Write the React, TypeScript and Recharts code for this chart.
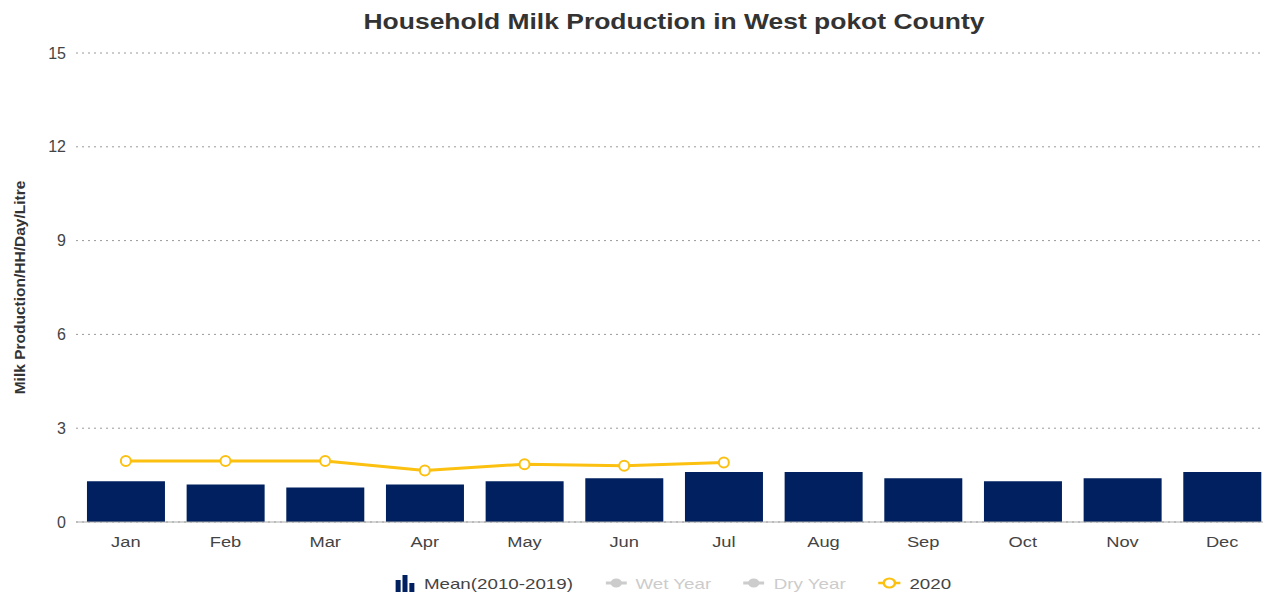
import {
  Bar,
  CartesianGrid,
  ComposedChart,
  Legend,
  Line,
  XAxis,
  YAxis,
} from "recharts";

const months = ["Jan", "Feb", "Mar", "Apr", "May", "Jun", "Jul", "Aug", "Sep", "Oct", "Nov", "Dec"];
const mean2010to2019 = [1.3, 1.2, 1.1, 1.2, 1.3, 1.4, 1.6, 1.6, 1.4, 1.3, 1.4, 1.6];
const year2020: (number | null)[] = [1.95, 1.95, 1.95, 1.65, 1.85, 1.8, 1.9, null, null, null, null, null];
const yTicks = [0, 3, 6, 9, 12, 15];

const data = months.map((month, i) => ({
  month,
  mean: mean2010to2019[i],
  y2020: year2020[i],
}));

const FONT = "'Liberation Sans', Arial, Helvetica, sans-serif";
const NAVY = "#00205f";
const GOLD = "#fbc010";
// the reference text is a little wider than Arial, stretch it to match
const STRETCH = 1.22;

function MonthTick({ x, y, payload }: any) {
  return (
    <g transform={`translate(${x},${y})`}>
      <text transform={`scale(${STRETCH},1)`} textAnchor="middle" dy="0.71em" fill="#444" fontSize={15}>
        {payload.value}
      </text>
    </g>
  );
}

function LegendContent() {
  const item = { display: "flex", alignItems: "center", gap: 7, fontSize: 15 } as const;
  return (
    <div style={{ paddingTop: 22, paddingLeft: 73 }}>
      <div
        style={{
          display: "flex",
          justifyContent: "center",
          gap: 26,
          fontFamily: FONT,
          transform: "scaleX(1.25)",
          transformOrigin: "50% 50%",
        }}
      >
        <div style={{ ...item, color: "#444" }}>
          <svg width={17} height={18}>
            <rect x={1} y={6} width={4} height={12} fill={NAVY} />
            <rect x={6.5} y={1} width={4} height={17} fill={NAVY} />
            <rect x={12} y={9} width={4} height={9} fill={NAVY} />
          </svg>
          Mean(2010-2019)
        </div>
        <div style={{ ...item, color: "#ccc" }}>
          <svg width={17} height={18}>
            <line x1={0} y1={9} x2={17} y2={9} stroke="#ccc" strokeWidth={3} />
            <circle cx={8.5} cy={9} r={4.5} fill="#ccc" />
          </svg>
          Wet Year
        </div>
        <div style={{ ...item, color: "#ccc" }}>
          <svg width={17} height={18}>
            <line x1={0} y1={9} x2={17} y2={9} stroke="#ccc" strokeWidth={3} />
            <circle cx={8.5} cy={9} r={4.5} fill="#ccc" />
          </svg>
          Dry Year
        </div>
        <div style={{ ...item, color: "#444" }}>
          <svg width={18} height={18}>
            <line x1={0} y1={9} x2={18} y2={9} stroke={GOLD} strokeWidth={2.5} />
            <circle cx={9} cy={9} r={4.5} fill="#fff" stroke={GOLD} strokeWidth={2} />
          </svg>
          2020
        </div>
      </div>
    </div>
  );
}

export default function App() {
  return (
    <div style={{ position: "absolute", left: 0, top: 0, width: 1263, height: 594, overflow: "hidden", background: "#fff" }}>
      <div
        style={{
          position: "absolute",
          top: 10,
          left: 0,
          width: 1348,
          textAlign: "center",
          fontFamily: FONT,
          fontWeight: 700,
          fontSize: 21.5,
          color: "#333",
          transform: "scaleX(1.23)",
          transformOrigin: "674px 50%",
        }}
      >
        Household Milk Production in West pokot County
      </div>
      <ComposedChart
        width={1275}
        height={594}
        data={data}
        margin={{ top: 53, right: 3, left: 0, bottom: 0 }}
        barCategoryGap="11%"
        style={{ fontFamily: FONT }}
      >
        <CartesianGrid vertical={false} stroke="#999" strokeDasharray="2 4" />
        <XAxis
          dataKey="month"
          height={30}
          tickSize={0}
          tickMargin={14}
          axisLine={{ stroke: "#aaa" }}
          tick={<MonthTick />}
        />
        <YAxis
          width={76}
          domain={[0, 15]}
          ticks={yTicks}
          tickSize={0}
          tickMargin={10}
          axisLine={false}
          tick={{ fill: "#444", fontSize: 16 }}
          label={({ viewBox }: any) => (
            <text
              x={25}
              y={viewBox.y + viewBox.height / 2}
              transform={`rotate(-90, 25, ${viewBox.y + viewBox.height / 2})`}
              textAnchor="middle"
              fontFamily="'Liberation Sans Narrow', 'Liberation Sans', Arial"
              fontWeight={700}
              fontSize={15.5}
              fill="#333"
            >
              Milk Production/HH/Day/Litre
            </text>
          )}
        />
        <Legend verticalAlign="bottom" height={42} content={() => <LegendContent />} />
        <Bar dataKey="mean" name="Mean(2010-2019)" fill={NAVY} isAnimationActive={false} />
        <Line
          dataKey="y2020"
          name="2020"
          stroke={GOLD}
          strokeWidth={3}
          dot={{ r: 5, fill: "#fff", stroke: GOLD, strokeWidth: 2 }}
          isAnimationActive={false}
        />
      </ComposedChart>
    </div>
  );
}
